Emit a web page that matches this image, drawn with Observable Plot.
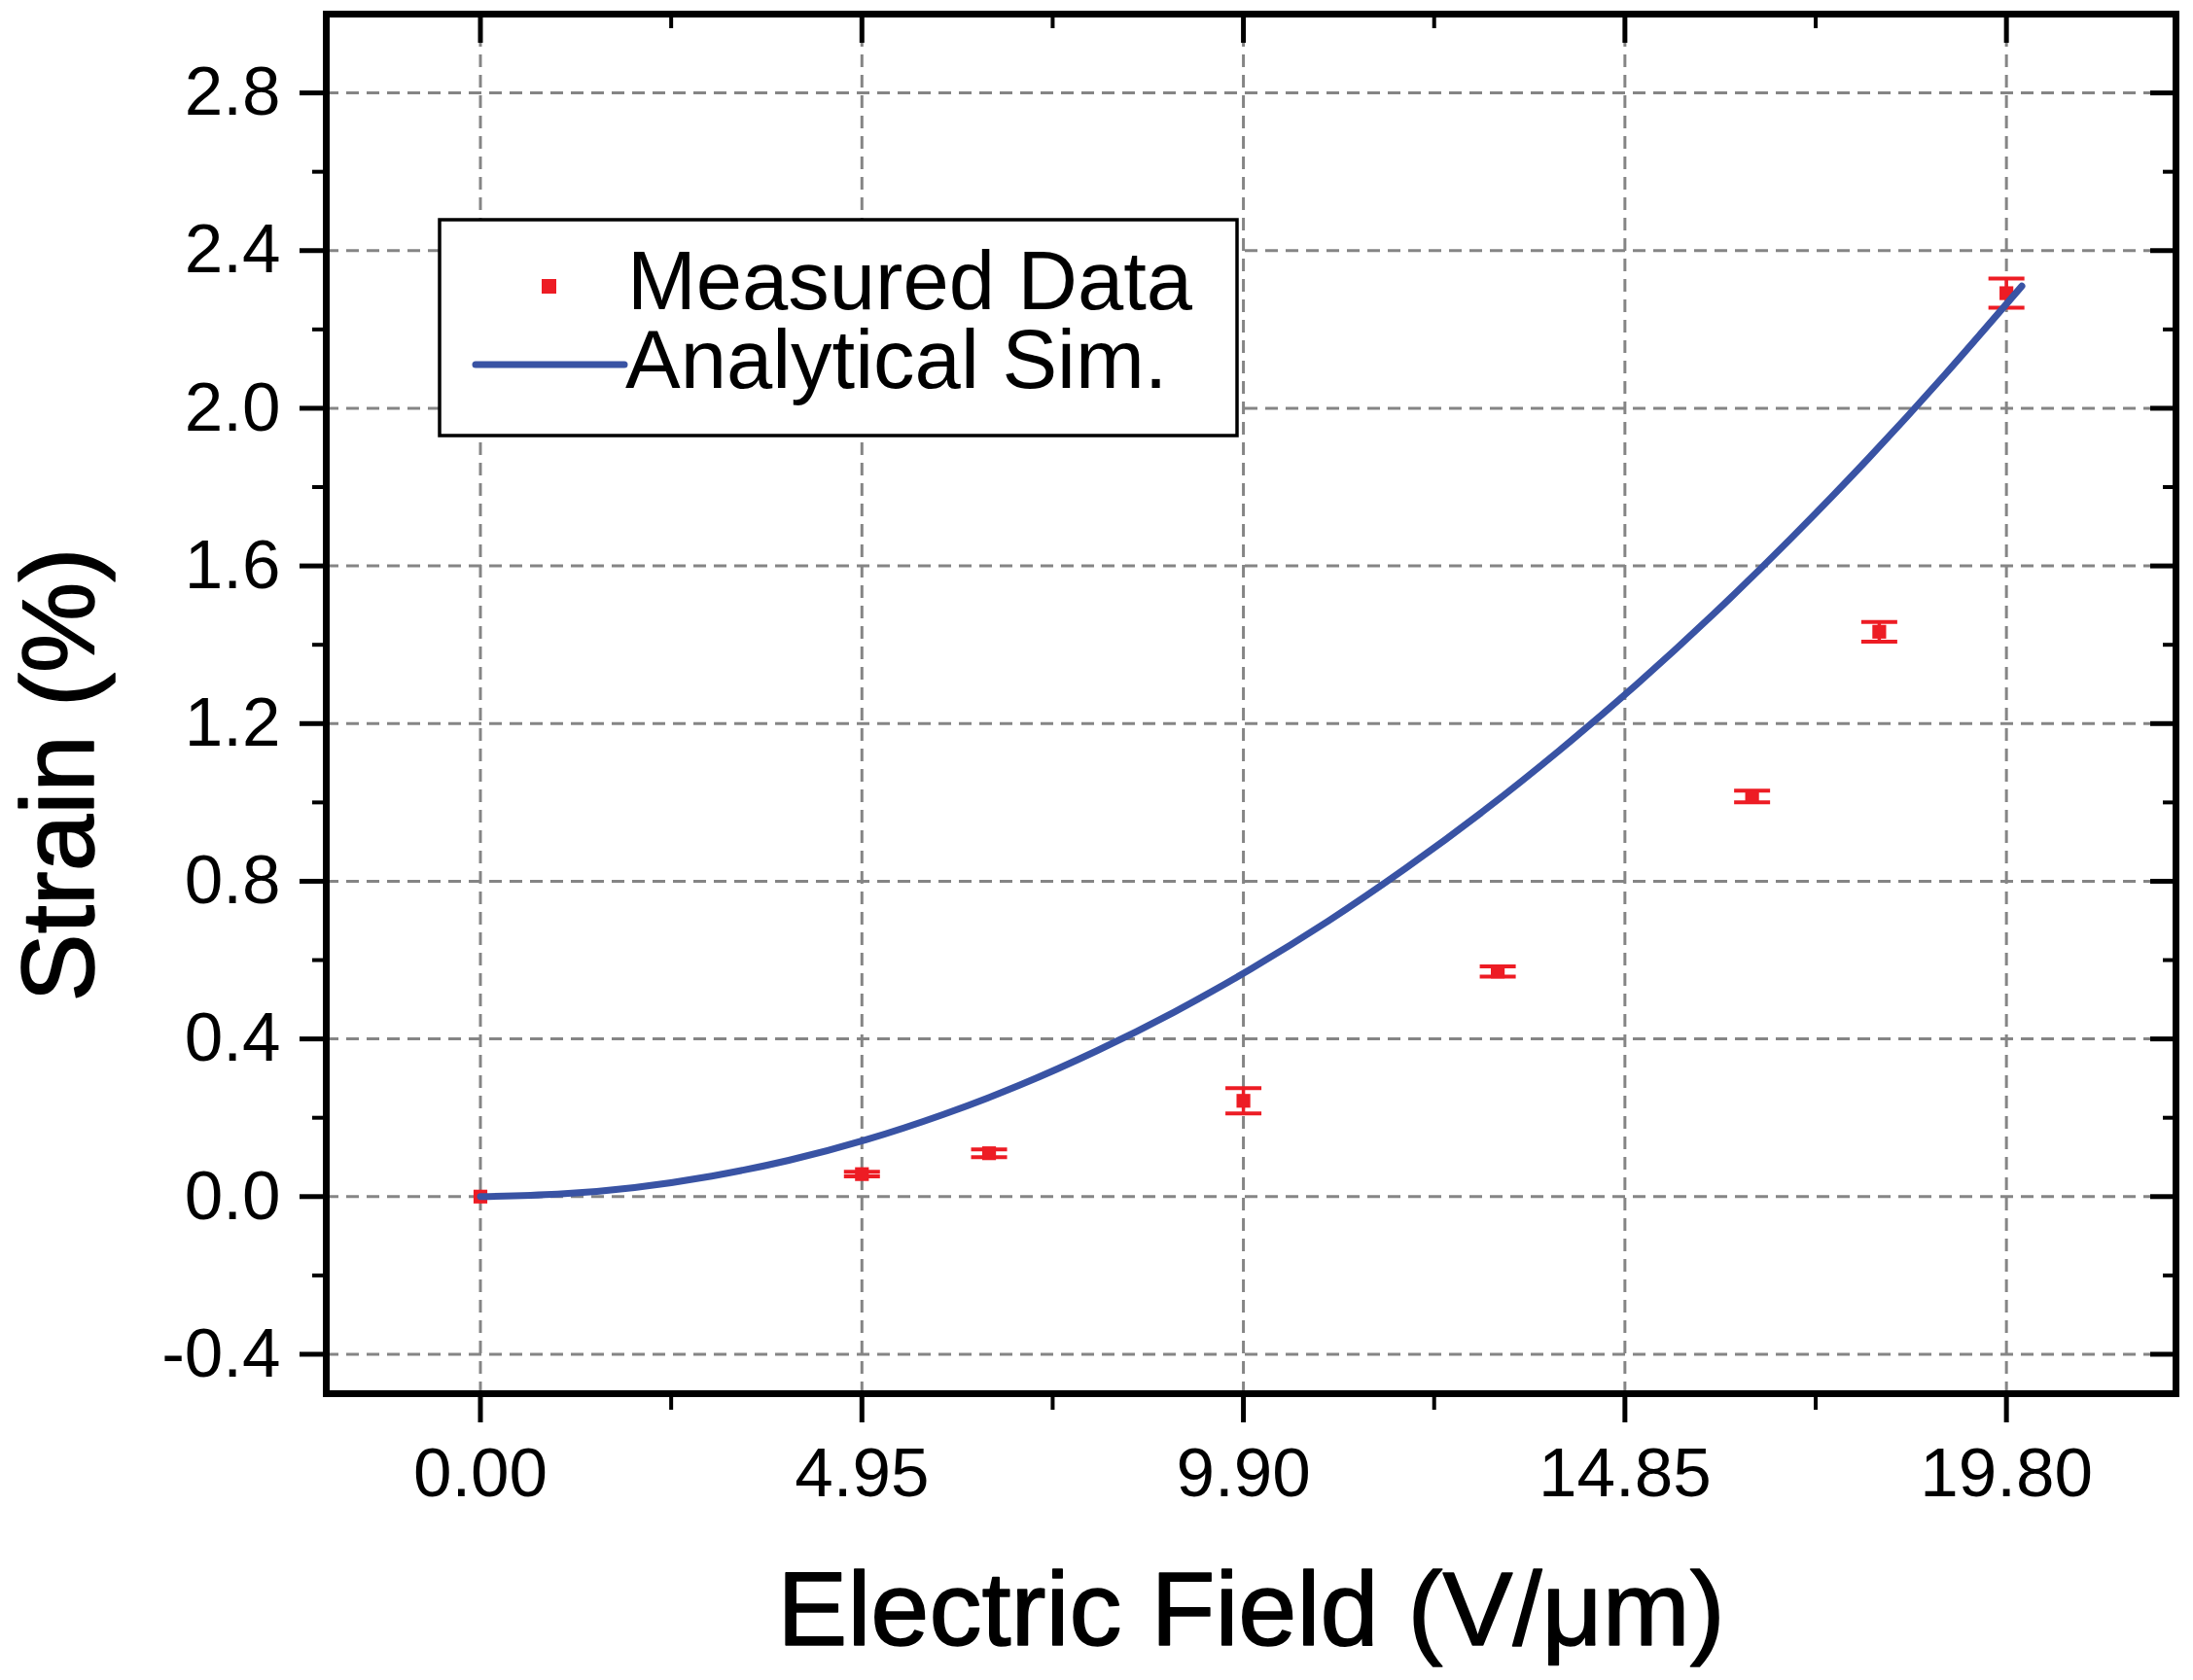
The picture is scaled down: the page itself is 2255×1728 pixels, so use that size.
<!DOCTYPE html>
<html>
<head>
<meta charset="utf-8">
<script src="https://cdn.jsdelivr.net/npm/d3@7"></script>
<script src="https://cdn.jsdelivr.net/npm/@observablehq/plot@0.6"></script>
<style>
  html, body { margin: 0; padding: 0; background: #fff; }
  #chart { position: relative; width: 2255px; height: 1728px; }
</style>
</head>
<body>
<div id="chart"></div>
<script>
// ---- data ----
const measuredX   = [0, 4.95, 6.6, 9.9, 13.2, 16.5, 18.15, 19.8];
const measuredY   = [0, 0.057, 0.110, 0.243, 0.571, 1.015, 1.433, 2.292];
const measuredErr = [0, 0.006, 0.010, 0.032, 0.013, 0.015, 0.025, 0.037];

const simX = [0, 1, 2, 3, 4, 5, 6, 7, 8, 9, 10, 11, 12, 13, 14, 15, 16, 17, 18, 19, 20];
const simY = [0, 0.006, 0.023, 0.052, 0.092, 0.144, 0.208, 0.283, 0.370, 0.468, 0.578,
              0.699, 0.832, 0.976, 1.132, 1.299, 1.478, 1.669, 1.871, 2.085, 2.310];

const xMajor = [0, 4.95, 9.9, 14.85, 19.8];
const xMinor = [2.475, 7.425, 12.375, 17.325];
const yMajor = [-0.4, 0, 0.4, 0.8, 1.2, 1.6, 2.0, 2.4, 2.8];
const yMinor = [-0.2, 0.2, 0.6, 1.0, 1.4, 1.8, 2.2, 2.6];

const xTitle = "Electric Field (V/μm)";
const yTitle = "Strain (%)";
const legendLabels = ["Measured Data", "Analytical Sim."];

// ---- tables ----
const measured = measuredX.map((x, i) => ({x, y: measuredY[i], e: measuredErr[i]}));
const withErr = measured.filter(d => d.e > 0);
const sim = simX.map((x, i) => ({x, y: simY[i]}));

const RED = "#ED1C24";
const BLUE = "#3953A4";
const GRID = "#858585";
const FONT = "'Liberation Sans', Arial, Helvetica, sans-serif";

const capSymbol = {
  draw(context, size) {
    const h = Math.sqrt(size / Math.PI);
    context.moveTo(-h, 0);
    context.lineTo(h, 0);
  }
};

const none = () => "";

const svg = Plot.plot({
  width: 2255,
  height: 1728,
  marginLeft: 335,
  marginRight: 18,
  marginTop: 14,
  marginBottom: 295,
  style: {fontFamily: FONT, background: "white", color: "black", overflow: "visible"},
  x: {domain: [-2, 22]},
  y: {domain: [-0.5, 3.0]},
  marks: [
    // grid
    Plot.ruleY(yMajor, {stroke: GRID, strokeWidth: 3, strokeDasharray: "13,8"}),
    Plot.ruleX(xMajor, {stroke: GRID, strokeWidth: 3, strokeDasharray: "13,8"}),
    // axes: left (outward)
    Plot.axisY(yMajor, {anchor: "left", tickSize: 27, tickPadding: 20, strokeWidth: 5,
      fontSize: 71, tickFormat: d => d.toFixed(1), label: null}),
    Plot.axisY(yMinor, {anchor: "left", tickSize: 14, strokeWidth: 4, tickFormat: none, label: null}),
    // right (inward)
    Plot.axisY(yMajor, {anchor: "right", tickSize: -27, strokeWidth: 5, tickFormat: none, label: null}),
    Plot.axisY(yMinor, {anchor: "right", tickSize: -14, strokeWidth: 4, tickFormat: none, label: null}),
    // bottom (outward)
    Plot.axisX(xMajor, {anchor: "bottom", tickSize: 30, tickPadding: 25, strokeWidth: 5,
      fontSize: 71, tickFormat: d => d.toFixed(2), label: null}),
    Plot.axisX(xMinor, {anchor: "bottom", tickSize: 17, strokeWidth: 4, tickFormat: none, label: null}),
    // top (inward)
    Plot.axisX(xMajor, {anchor: "top", tickSize: -29, strokeWidth: 5, tickFormat: none, label: null}),
    Plot.axisX(xMinor, {anchor: "top", tickSize: -14, strokeWidth: 4, tickFormat: none, label: null}),
    // frame
    Plot.frame({stroke: "black", strokeWidth: 7}),
    // error bars
    Plot.ruleX(withErr, {x: "x", y1: d => d.y - d.e, y2: d => d.y + d.e, stroke: RED, strokeWidth: 3.5}),
    Plot.dot(withErr, {x: "x", y: d => d.y + d.e, symbol: capSymbol, r: 18.5, fill: "none", stroke: RED, strokeWidth: 4}),
    Plot.dot(withErr, {x: "x", y: d => d.y - d.e, symbol: capSymbol, r: 18.5, fill: "none", stroke: RED, strokeWidth: 4}),
    // markers
    Plot.dot(measured, {x: "x", y: "y", symbol: "square", r: 8, fill: RED, stroke: "none"}),
    // simulation curve
    Plot.line(sim, {x: "x", y: "y", stroke: BLUE, strokeWidth: 7, curve: "natural"}),
    // axis titles
    Plot.text([xTitle], {text: d => d, frameAnchor: "bottom", dy: 224, fontSize: 108,
      textAnchor: "middle", lineAnchor: "middle", fill: "black", stroke: "black", strokeWidth: 1.5}),
    Plot.text([yTitle], {text: d => d, frameAnchor: "left", dx: -273, dy: 73, rotate: -90, fontSize: 105,
      textAnchor: "middle", lineAnchor: "middle", fill: "black", stroke: "black", strokeWidth: 1.5})
  ]
});

document.getElementById("chart").appendChild(svg);

// ---- legend (inside plot, top-left) ----
const g = d3.select(svg).append("g").attr("font-family", FONT).attr("text-anchor", "start");
g.append("rect").attr("x", 452).attr("y", 226).attr("width", 820).attr("height", 222)
  .attr("fill", "white").attr("stroke", "black").attr("stroke-width", 3.5);
g.append("rect").attr("x", 557).attr("y", 287).attr("width", 15).attr("height", 15).attr("fill", RED);
g.append("line").attr("x1", 489).attr("x2", 642).attr("y1", 375).attr("y2", 375)
  .attr("stroke", BLUE).attr("stroke-width", 7).attr("stroke-linecap", "round");
g.append("text").attr("x", 645).attr("y", 318).attr("font-size", 85).attr("fill", "black")
  .attr("text-anchor", "start").text(legendLabels[0]);
g.append("text").attr("x", 643).attr("y", 399).attr("font-size", 85).attr("fill", "black")
  .attr("text-anchor", "start").text(legendLabels[1]);
</script>
</body>
</html>
